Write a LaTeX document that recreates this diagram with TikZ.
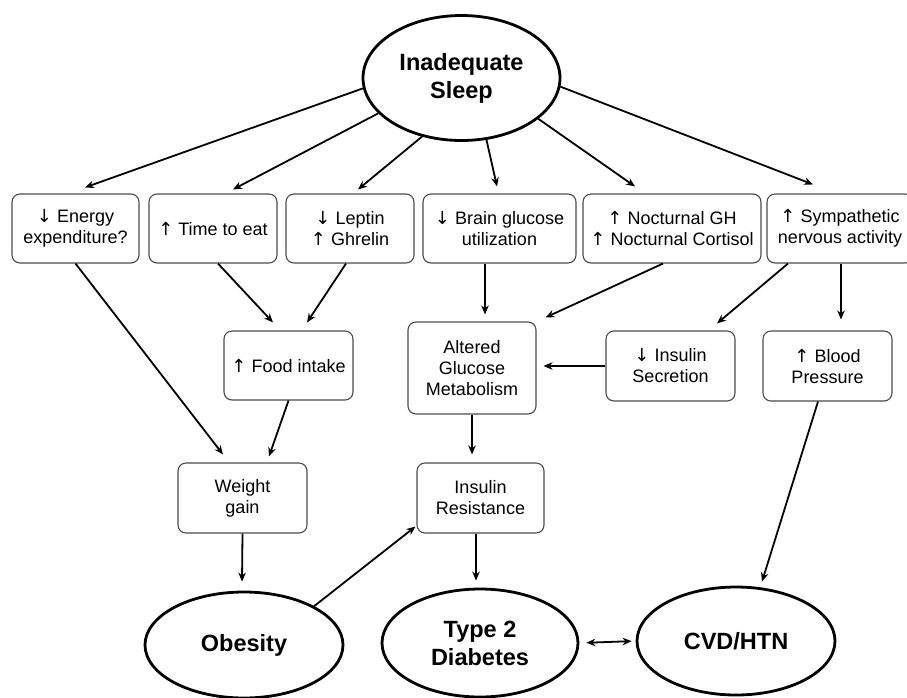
\documentclass[tikz,border=0pt]{standalone}
\usepackage{fontspec}
\setmainfont{Liberation Sans}
\newfontfamily\arrowfont{DejaVu Sans}
\newcommand\myup{{\arrowfont ↑}}
\newcommand\mydown{{\arrowfont ↓}}
\usetikzlibrary{shapes.geometric,arrows.meta,calc}
\begin{document}
\begin{tikzpicture}[x=1pt,y=-1pt,
  box/.style={draw=black!70, line width=1.1pt, rounded corners=8pt, align=center,
    font=\fontsize{18}{21}\selectfont, inner sep=2pt},
  oval/.style={draw, ellipse, line width=2.8pt, inner sep=0pt, align=center,
    font=\fontsize{23.5}{28}\selectfont\bfseries},
  arr/.style={-{Stealth[length=9pt,width=7.5pt]}, line width=1.8pt},
  darr/.style={{Stealth[length=9pt,width=7.5pt]}-{Stealth[length=9pt,width=7.5pt]}, line width=1.8pt},
]
\useasboundingbox (0,0) rectangle (907,697);

% ovals
\node[oval, minimum width=197, minimum height=125] (sleep) at (461.5,78) {Inadequate\\Sleep};
\node[oval, minimum width=198, minimum height=106] (ob) at (244,645) {Obesity};
\node[oval, minimum width=196, minimum height=108] (t2d) at (480,643) {Type 2\\Diabetes};
\node[oval, minimum width=198, minimum height=108] (cvd) at (736,641) {CVD/HTN};

% top row
\node[box, minimum width=127, minimum height=69] (b1) at (75.5,228.5) {\mydown{} Energy\\expenditure?};
\node[box, minimum width=128, minimum height=69] (b2) at (213,228.5) {\myup{} Time to eat};
\node[box, minimum width=128, minimum height=69] (b3) at (350,228.5) {\mydown{} Leptin\\\myup{} Ghrelin};
\node[box, minimum width=153, minimum height=69] (b4) at (499.5,228.5) {\mydown{} Brain glucose\\utilization};
\node[box, minimum width=178, minimum height=69] (b5) at (672,228.5) {\myup{} Nocturnal GH\\\myup{} Nocturnal Cortisol};
\node[box, minimum width=146, minimum height=69] (b6) at (840,228.5) {\myup{} Sympathetic\\nervous activity};

% middle row
\node[box, minimum width=129, minimum height=69] (food) at (288.5,365.5) {\myup{} Food intake};
\node[box, minimum width=128, minimum height=92] (alt) at (472,368) {Altered\\Glucose\\Metabolism};
\node[box, minimum width=129, minimum height=70] (insec) at (670.5,366) {\mydown{} Insulin\\Secretion};
\node[box, minimum width=129, minimum height=70] (bp) at (827.5,366) {\myup{} Blood\\Pressure};

% third row
\node[box, minimum width=129, minimum height=70] (wg) at (242.5,498) {Weight\\gain};
\node[box, minimum width=127, minimum height=70] (ir) at (480.5,498) {Insulin\\Resistance};

% arrows from sleep
\draw[arr] (sleep.186) -- ($(b1.north)+(9.5,-6)$);
\draw[arr] (sleep.203) -- ($(b2.north)+(20,-4)$);
\draw[arr] (sleep.236) -- ($(b3.north)+(8,-4)$);
\draw[arr] (sleep.292) -- ($(b4.north)+(-2.5,-7)$);
\draw[arr] (sleep.332) -- ($(b5.north)+(-37,-7)$);
\draw[arr] (sleep.355) -- ($(b6.north)+(-27,-9)$);

% middle arrows
\draw[arr] (b1.south) -- ($(wg.north)+(-19.5,-8)$);
\draw[arr] ($(b2.south)+(5,0)$) -- ($(food.north)+(-15.5,-8)$);
\draw[arr] ($(b3.south)+(-4,0)$) -- ($(food.north)+(18.5,-8)$);
\draw[arr] (food.south) -- ($(wg.north)+(26.5,-6)$);
\draw[arr] ($(b4.south)+(-14.5,0)$) -- ($(alt.north)+(13,-7)$);
\draw[arr] ($(b5.south)+(-9,0)$) -- ($(alt.north east)+(9,-4)$);
\draw[arr] ($(b6.south)+(-52,0)$) -- ($(insec.north)+(46.5,-7)$);
\draw[arr] ($(b6.south)+(1,0)$) -- ($(bp.north)+(13.5,-11)$);
\draw[arr] (insec.west) -- ($(alt.east)+(7,-2)$);
\draw[arr] (alt.south) -- ($(ir.north)+(-8.5,-8)$);
\draw[arr] (wg.south) -- ($(ob.north)+(-2,-9)$);
\draw[arr] (ob.29) -- ($(ir.south west)+(-1,-7)$);
\draw[arr] ($(ir.south)+(-4.5,0)$) -- ($(t2d.north)+(-4,-7)$);
\draw[arr] ($(bp.south)+(-9.5,0)$) -- ($(cvd.north)+(26,-4)$);
\draw[darr, shorten <=7pt, shorten >=4pt] (t2d.east) -- (cvd.west);
\end{tikzpicture}
\end{document}
